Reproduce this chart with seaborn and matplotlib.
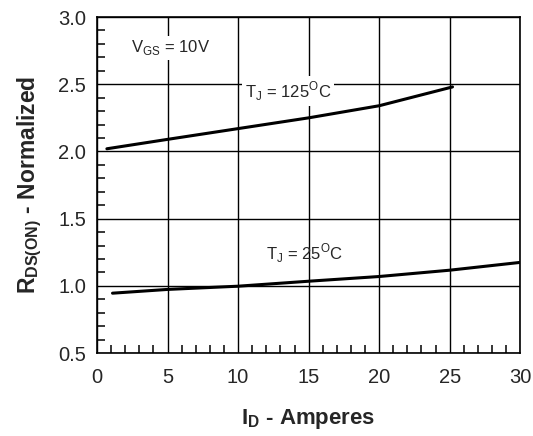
import seaborn as sns
import pandas as pd
import matplotlib.pyplot as plt
from matplotlib.ticker import MultipleLocator

id_125 = [0.7, 5, 10, 15, 20, 25.2]
r_125 = [2.02, 2.09, 2.17, 2.25, 2.34, 2.48]
id_25 = [1.1, 5, 10, 15, 20, 25, 30]
r_25 = [0.946, 0.974, 0.998, 1.035, 1.07, 1.117, 1.175]

df = pd.concat([
    pd.DataFrame({"ID": id_125, "R": r_125, "Tj": "125"}),
    pd.DataFrame({"ID": id_25, "R": r_25, "Tj": "25"}),
])

sns.set_style("white")
plt.rcParams["font.family"] = ["Liberation Sans", "DejaVu Sans"]
plt.rcParams["mathtext.fontset"] = "custom"
plt.rcParams["mathtext.rm"] = "Liberation Sans"
plt.rcParams["mathtext.bf"] = "Liberation Sans:bold"

fig, ax = plt.subplots(figsize=(5.33, 4.36), dpi=100)
fig.subplots_adjust(left=0.182, right=0.976, bottom=0.19, top=0.961)

for tj, sub in df.groupby("Tj"):
    sns.lineplot(data=sub, x="ID", y="R", ax=ax, color="black", lw=2.2, legend=False)

ax.set_xlim(0, 30)
ax.set_ylim(0.5, 3.0)
ax.xaxis.set_major_locator(MultipleLocator(5))
ax.xaxis.set_minor_locator(MultipleLocator(1))
ax.yaxis.set_major_locator(MultipleLocator(0.5))
ax.yaxis.set_minor_locator(MultipleLocator(0.1))
ax.set_yticklabels([f"{v:.1f}" for v in ax.get_yticks()])
ax.tick_params(which="both", direction="in", labelsize=14.5, color="black")
ax.tick_params(which="major", length=0)
ax.tick_params(axis="x", which="major", pad=11)
ax.tick_params(axis="y", which="major", pad=8)
ax.tick_params(which="minor", length=6, width=1.1, bottom=True, left=True)
ax.grid(True, which="major", color="black", lw=1)
for s in ax.spines.values():
    s.set_color("black")
    s.set_linewidth(1.2)

ax.set_xlabel(r"$\mathbf{I_D}$ - Amperes", fontsize=16, fontweight="bold", labelpad=14)
ax.set_ylabel(r"$\mathbf{R_{DS(ON)}}$ - Normalized", fontsize=16.5, fontweight="bold", labelpad=10)

box = dict(facecolor="white", edgecolor="none", pad=2)
ax.text(2.4, 2.77, r"V$_{\mathregular{GS}}$ = 10V", fontsize=12, va="center", bbox=box)
ax.text(10.5, 2.45, r"T$_{\mathregular{J}}$ = 125$^{\mathregular{O}}$C", fontsize=12, va="center", bbox=box)
ax.text(12.0, 1.24, r"T$_{\mathregular{J}}$ = 25$^{\mathregular{O}}$C", fontsize=12, va="center")

fig.savefig("out.png", dpi=100)
